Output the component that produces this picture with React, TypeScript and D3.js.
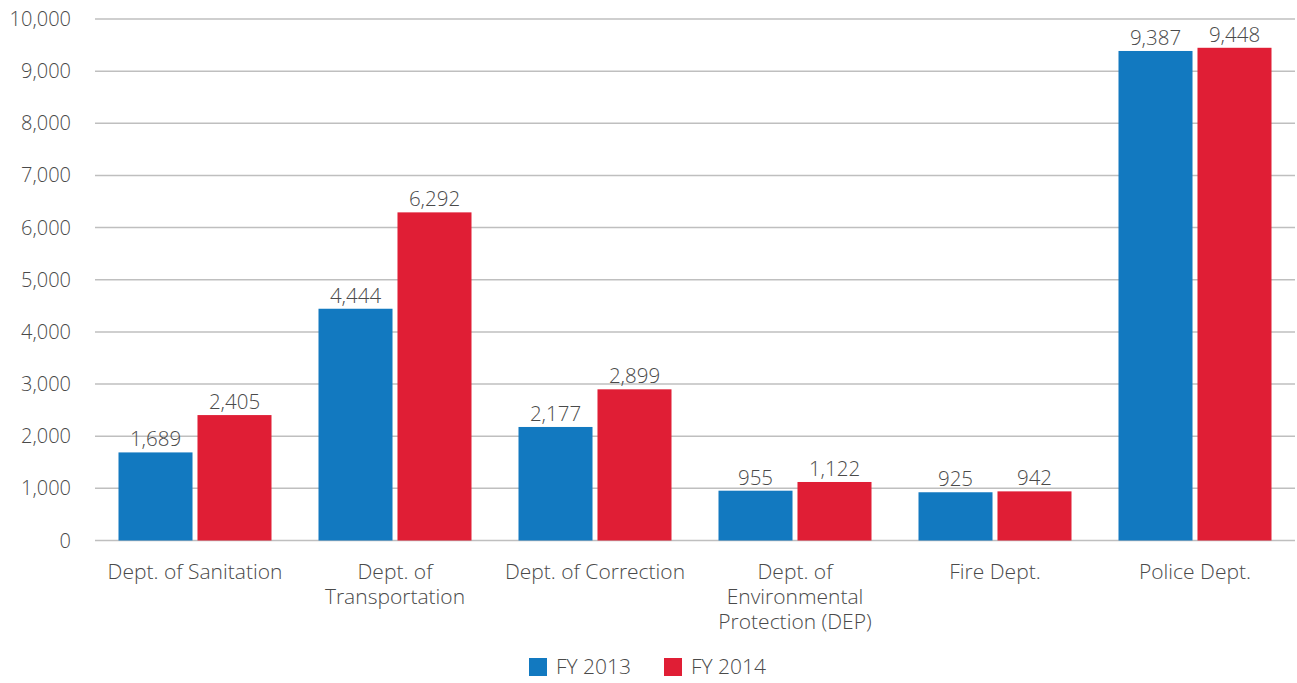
import React, { useEffect, useRef } from "react";
import * as d3 from "d3";

const categories = [
  "Dept. of Sanitation",
  "Dept. of Transportation",
  "Dept. of Correction",
  "Dept. of Environmental Protection (DEP)",
  "Fire Dept.",
  "Police Dept.",
];
const seriesNames = ["FY 2013", "FY 2014"];
const fy2013 = [1689, 4444, 2177, 955, 925, 9387];
const fy2014 = [2405, 6292, 2899, 1122, 942, 9448];
const yTicks = [0, 1000, 2000, 3000, 4000, 5000, 6000, 7000, 8000, 9000, 10000];

const COLORS = ["#1279c0", "#e01e35"];
const FONT = "'Open Sans', sans-serif";
const TEXT = "#4a4a4a";

export default function App() {
  const ref = useRef<SVGSVGElement>(null);

  useEffect(() => {
    const svg = d3.select(ref.current);
    svg.selectAll("*").remove();

    const left = 95;
    const right = 1295;
    const top = 19;
    const bottom = 540.5;

    const x = d3
      .scaleBand<string>()
      .domain(categories)
      .range([left, right])
      .paddingInner(0.235)
      .paddingOuter(0.1175);
    const inner = d3
      .scaleBand<string>()
      .domain(seriesNames)
      .range([0, x.bandwidth()])
      .paddingInner(0.063)
      .paddingOuter(0);
    const y = d3.scaleLinear().domain([0, 10000]).range([bottom, top]);
    const fmt = d3.format(",");

    // gridlines
    svg
      .append("g")
      .selectAll("line")
      .data(yTicks)
      .join("line")
      .attr("x1", left)
      .attr("x2", right)
      .attr("y1", (d) => y(d))
      .attr("y2", (d) => y(d))
      .attr("stroke", "#bfbfbf")
      .attr("stroke-width", 1.5);

    // y tick labels
    svg
      .append("g")
      .selectAll("text")
      .data(yTicks)
      .join("text")
      .attr("x", 71)
      .attr("y", (d) => y(d))
      .attr("dy", "0.35em")
      .attr("text-anchor", "end")
      .attr("font-family", FONT)
      .attr("font-weight", 300)
      .attr("font-size", 20)
      .attr("fill", TEXT)
      .text((d) => fmt(d));

    const rows = categories.map((c, i) => ({ c, vals: [fy2013[i], fy2014[i]] }));

    const groups = svg
      .append("g")
      .selectAll("g")
      .data(rows)
      .join("g")
      .attr("transform", (d) => `translate(${x(d.c)},0)`);

    const cells = groups
      .selectAll("g")
      .data((d) => d.vals.map((v, j) => ({ v, s: seriesNames[j], j })))
      .join("g");

    cells
      .append("rect")
      .attr("x", (d) => inner(d.s)!)
      .attr("width", inner.bandwidth())
      .attr("y", (d) => y(d.v))
      .attr("height", (d) => y(0) - y(d.v))
      .attr("fill", (d) => COLORS[d.j]);

    cells
      .append("text")
      .attr("x", (d) => inner(d.s)! + inner.bandwidth() / 2)
      .attr("y", (d) => y(d.v) - 6)
      .attr("text-anchor", "middle")
      .attr("font-family", FONT)
      .attr("font-weight", 300)
      .attr("font-size", 20.5)
      .attr("fill", TEXT)
      .text((d) => fmt(d.v));

    // category labels, wrapped to the band width
    const labels = svg
      .append("g")
      .selectAll("text")
      .data(categories)
      .join("text")
      .attr("x", (d) => x(d)! + x.bandwidth() / 2)
      .attr("y", 579)
      .attr("text-anchor", "middle")
      .attr("font-family", FONT)
      .attr("font-weight", 300)
      .attr("font-size", 21)
      .attr("fill", TEXT);

    const maxWidth = 192;
    labels.each(function (d) {
      const t = d3.select(this);
      const cx = t.attr("x");
      const words = d.split(" ");
      let line: string[] = [];
      let tspan = t.append("tspan").attr("x", cx).attr("dy", 0);
      for (const w of words) {
        line.push(w);
        tspan.text(line.join(" "));
        if ((tspan.node() as SVGTextContentElement).getComputedTextLength() > maxWidth && line.length > 1) {
          line.pop();
          tspan.text(line.join(" "));
          line = [w];
          tspan = t.append("tspan").attr("x", cx).attr("dy", 25).text(w);
        }
      }
    });

    // legend
    const legendX = [529, 664];
    const lg = svg
      .append("g")
      .selectAll("g")
      .data(seriesNames)
      .join("g")
      .attr("transform", (_d, i) => `translate(${legendX[i]},658)`);
    lg.append("rect").attr("width", 18).attr("height", 18).attr("fill", (_d, i) => COLORS[i]);
    lg.append("text")
      .attr("x", 27)
      .attr("y", 9)
      .attr("dy", "0.35em")
      .attr("font-family", FONT)
      .attr("font-weight", 300)
      .attr("font-size", 21)
      .attr("fill", TEXT)
      .text((d) => d);
  }, []);

  return (
    <svg
      ref={ref}
      width={1297}
      height={683}
      style={{ position: "absolute", left: 0, top: 0, background: "#fff" }}
    />
  );
}
